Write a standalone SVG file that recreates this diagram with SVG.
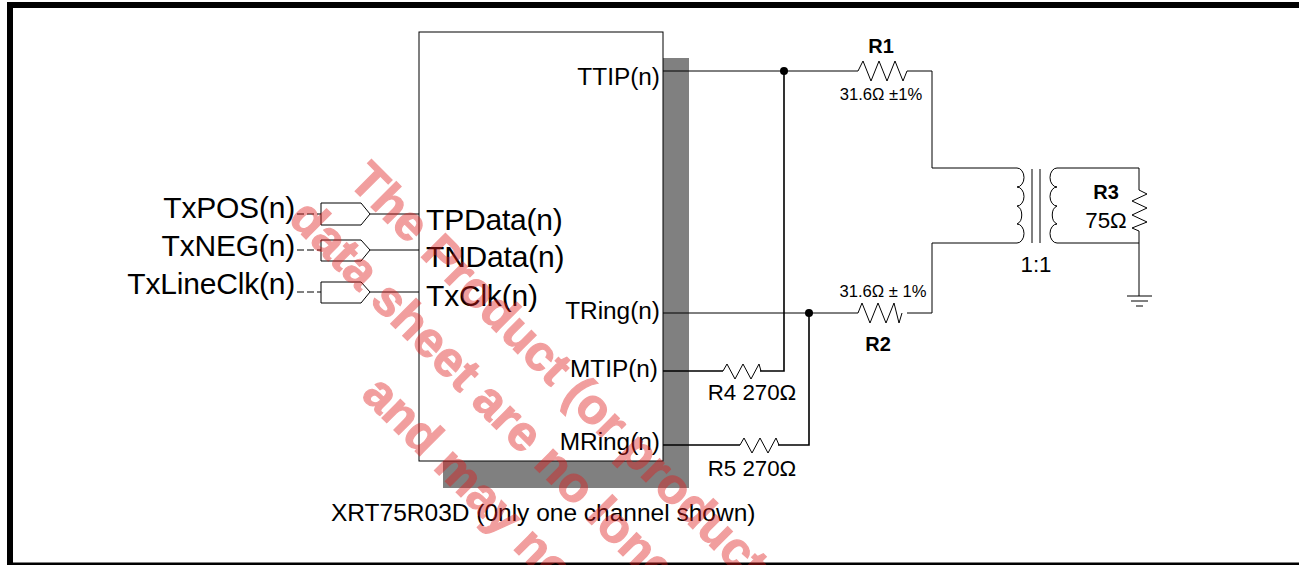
<svg xmlns="http://www.w3.org/2000/svg" width="1299" height="565" viewBox="0 0 1299 565">
<style>
text{font-family:"Liberation Sans",Arial,sans-serif;fill:#000}
.l{fill:none;stroke:#000;stroke-width:1}
.d{fill:none;stroke:#000;stroke-width:1;stroke-dasharray:7 3}
.h{fill:none;stroke:#000;stroke-width:1.6}
.big{font-size:30px;letter-spacing:-.2px}
.pin{font-size:24.400px}
.mid{font-size:22.300px}
.cap{font-size:24.500px}
.sm{font-size:16.600px}
.b{font-size:20px;font-weight:bold}
#watermark{opacity:.42}
.wm{font-size:49.500px;font-weight:bold;fill:#e01b1b;stroke:#e01b1b;stroke-width:1.2}
</style>
<rect width="1299" height="565" fill="#fff"/>
<g id="frame"><path d="M10 565V5H1299" fill="none" stroke="#000" stroke-width="6"/><path d="M7 564H1299" stroke="#000" stroke-width="3"/></g>
<g id="chip">
<rect x="443" y="58" width="246" height="430" fill="#808080"/>
<rect x="419" y="32" width="244" height="429" fill="#fff" stroke="#000"/>
<text class="pin" x="660" y="85" text-anchor="end">TTIP(n)</text>
<text class="pin" x="660" y="319" text-anchor="end">TRing(n)</text>
<text class="pin" x="658" y="377" text-anchor="end">MTIP(n)</text>
<text class="pin" x="660" y="450" text-anchor="end">MRing(n)</text>
<text class="big" x="426" y="230">TPData(n)</text>
<text class="big" x="426" y="267">TNData(n)</text>
<text class="big" x="426" y="306">TxClk(n)</text>
<text class="cap" x="331" y="521">XRT75R03D (0nly one channel shown)</text>
</g>
<g id="inputs">
<text class="big" x="295" y="218" text-anchor="end">TxPOS(n)</text>
<text class="big" x="295" y="256" text-anchor="end">TxNEG(n)</text>
<text class="big" x="295" y="294" text-anchor="end">TxLineClk(n)</text>
<path id="buf1" class="l" d="M321 203H361L370 214L361 225H321Z"/>
<path id="buf2" class="l" d="M321 240H361L370 250L361 261H321Z"/>
<path id="buf3" class="l" d="M321 282H361L370 292L361 303H321Z"/>
</g>
<g id="connectors">
<path class="d" d="M297 214H321M297 250H321M297 292H321"/>
<path class="l" d="M370 214H419M370 250H419M370 292H419"/>
<path class="l" d="M663 71H858M663 313H858"/>
<path class="h" d="M784 71V371H760M663 371H723"/>
<path class="h" d="M809 313V445H778M663 445H740"/>
<circle cx="784" cy="71" r="4"/><circle cx="809" cy="313" r="4"/>
<path class="l" d="M907 71H932V168H1017M907 313H932V243H1017M1057 168H1139V190M1139 231V296M1057 243H1139"/>
</g>
<g id="R1"><path class="l" d="M858 71L863 61L871 81L879 61L887 81L895 61L903 81L907 71"/><text class="b" x="881" y="53" text-anchor="middle">R1</text><text class="sm" x="881" y="100" text-anchor="middle">31.6Ω ±1%</text></g>
<g id="R2"><path class="l" d="M858 313L862 303L870 323L878 303L886 323L894 303L899 323L902 313"/><text class="b" x="878" y="351" text-anchor="middle">R2</text><text class="sm" x="883" y="297" text-anchor="middle">31.6Ω ± 1%</text></g>
<g id="R3"><path class="l" d="M1139 190L1147 194L1132 201L1147 208L1132 215L1147 222L1132 228L1139 231"/><text class="b" x="1106" y="199" text-anchor="middle">R3</text><text class="mid" x="1106" y="228" text-anchor="middle">75Ω</text></g>
<g id="R4"><path class="l" d="M723 371L727 364L735 379L743 364L751 379L759 364L761 371"/><text class="mid" x="752" y="400" text-anchor="middle">R4 270Ω</text></g>
<g id="R5"><path class="l" d="M740 445L744 438L752 453L760 438L768 453L776 438L779 445"/><text class="mid" x="752" y="476" text-anchor="middle">R5 270Ω</text></g>
<g id="T1">
<path class="l" d="M1017 168A7 9.500 0 0 1 1017 187A7 9.500 0 0 1 1017 206A7 9.500 0 0 1 1017 224A7 9.500 0 0 1 1017 243"/>
<path class="l" d="M1057 168A7 9.500 0 0 0 1057 187A7 9.500 0 0 0 1057 206A7 9.500 0 0 0 1057 224A7 9.500 0 0 0 1057 243"/>
<path class="l" d="M1032 169V243M1040 169V243"/>
<text class="mid" x="1036" y="272" text-anchor="middle">1:1</text>
</g>
<g id="ground"><path class="l" d="M1127 296H1152M1131 301H1148M1136 306H1143"/></g>
<g id="watermark">
<text class="wm" transform="translate(347,183) rotate(45)">The Product (or product</text>
<text class="wm" transform="translate(287,220) rotate(45)">data sheet are no longer</text>
<text class="wm" transform="translate(360,396) rotate(45)">and may no longer</text>
</g>
</svg>
